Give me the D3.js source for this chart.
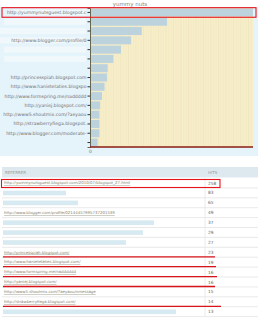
<!DOCTYPE html>
<html><head><meta charset="utf-8">
<script src="https://cdn.jsdelivr.net/npm/d3@7"></script>
<style>body{margin:0;background:#fff}svg{display:block}</style>
</head><body><svg id="c" width="261" height="320"></svg>
<script>
// ---- data ----
const chartTitle = "yummy nuts";
const chartLabels = ["http://yummynutsguest.blogspot.c", "", "", "http://www.blogger.com/profile/0", "", "", "",
  "http://princesspiah.blogspot.com", "http://www.hanietelaties.blogspo", "http://www.formspring.me/naddddd",
  "http://yaniej.blogspot.com/", "http://www5.shoutmix.com/?aeyaou", "http://strawberryfiega.blogspot.",
  "http://www.blogger.com/moderate-", ""];
const chartValues = [258, 122, 82, 65, 49, 37, 28, 27, 23, 19, 16, 15, 15, 15, 12];
const xTickValues = [0];
const tableHeader = ["REFERRER", "HITS"];
const tableReferrers = ["http://yummynutsguest.blogspot.com/2010/07/blogspot_27.html", "", "",
  "http://www.blogger.com/profile/02144457995737201539", "", "", "",
  "http://princesspiah.blogspot.com/", "http://www.hanietelaties.blogspot.com/", "http://www.formspring.me/nadddddd",
  "http://yaniej.blogspot.com/", "http://www5.shoutmix.com/?aeyaou/nmessage", "http://strawberryfiega.blogspot.com/", ""];
const tableHits = [258, 83, 65, 49, 37, 29, 27, 23, 19, 16, 16, 15, 14, 13];
const underlinedRows = [7, 8, 9, 10, 12];

// ---- layout (not data) ----
const chartMaskX = [14, 4, 0, 0, 4, 4, 4, 0, 0, 0, 0, 0, 0, 0, 4];
const tableMaskW = [0, 63, 75, 0, 151, 140, 123, 0, 0, 0, 0, 0, 0, 173];
const underlineEnd = [215, 216, 217, 215, 221];

const svg = d3.select("#c");
const font = "Verdana, 'DejaVu Sans', sans-serif";

// ---- chart ----
svg.append("rect").attr("x", 0).attr("y", 7).attr("width", 258).attr("height", 149).attr("fill", "#e5f3fb");
svg.append("text").attr("x", 130).attr("y", 5.5).attr("text-anchor", "middle")
  .attr("font-family", font).attr("font-size", 5.5).attr("fill", "#888").text(chartTitle);

const x = d3.scaleLinear().domain([0, 258]).range([90, 253]);
const y = d3.scaleBand().domain(d3.range(chartValues.length)).range([8, 147]).paddingInner(0.14).paddingOuter(0.05);

svg.append("rect").attr("x", 90).attr("y", 8).attr("width", 163).attr("height", 139).attr("fill", "#f6edc9");
const stripes = svg.append("g");
d3.range(91, 253, 2.5).forEach((sx, i) => {
  stripes.append("line").attr("x1", sx).attr("x2", sx).attr("y1", 8).attr("y2", 147)
    .attr("stroke", i % 3 === 0 ? "#efe4ba" : "#f3e9c2").attr("stroke-width", 0.7);
});

svg.append("g").selectAll("rect").data(chartValues).join("rect")
  .attr("x", x(0)).attr("y", (d, i) => y(i)).attr("width", d => x(d) - x(0)).attr("height", y.bandwidth())
  .attr("fill", "#bcd3de");

// label masks (redacted)
svg.append("g").selectAll("rect").data(chartLabels).join("rect")
  .filter(d => d === "")
  .attr("x", (d, i) => chartMaskX[i]).attr("y", (d, i) => y(i) + 1).attr("width", (d, i) => 86 - chartMaskX[i])
  .attr("height", y.bandwidth() - 2).attr("fill", "#f0f8fc");

const yAxis = d3.axisLeft(y).tickSize(2.5).tickPadding(1).tickFormat(i => chartLabels[i]);
const ya = svg.append("g").attr("transform", "translate(90,0)").call(yAxis);
ya.select(".domain").attr("stroke", "#665").attr("stroke-width", 1);
ya.selectAll(".tick line").attr("stroke", "#333");
ya.selectAll("text").attr("font-family", font).attr("font-size", 4.6).attr("fill", "#707070");

const xAxis = d3.axisBottom(x).tickValues(xTickValues).tickSize(0).tickPadding(3);
const xa = svg.append("g").attr("transform", "translate(0,147)").call(xAxis);
xa.select(".domain").remove();
xa.selectAll("text").attr("font-family", font).attr("font-size", 4.5).attr("fill", "#777");
svg.append("line").attr("x1", 90).attr("x2", 253).attr("y1", 147).attr("y2", 147)
  .attr("stroke", "#8b1c12").attr("stroke-width", 1.6);

// highlight first row
svg.append("rect").attr("x", 2).attr("y", y(0) - 0.8).attr("width", 254).attr("height", y.bandwidth() + 1.6)
  .attr("fill", "none").attr("stroke", "#e8141c").attr("stroke-width", 1.1);

// ---- table ----
const rowH = 9.9, rowTop = 178;
const tx0 = 2, tx1 = 258, colX = 205;
svg.append("rect").attr("x", tx0).attr("y", 167).attr("width", tx1 - tx0).attr("height", 10.5).attr("fill", "#dde9ef");
svg.append("text").attr("x", 5).attr("y", 173.8).attr("font-family", font).attr("font-size", 4).attr("fill", "#999").text(tableHeader[0]);
svg.append("text").attr("x", 208).attr("y", 173.8).attr("font-family", font).attr("font-size", 4).attr("fill", "#999").text(tableHeader[1]);

const rows = svg.append("g").selectAll("g").data(tableHits).join("g")
  .attr("transform", (d, i) => `translate(0,${rowTop + i * rowH})`);
rows.append("line").attr("x1", tx0).attr("x2", tx1).attr("y1", rowH).attr("y2", rowH).attr("stroke", "#e3e3e3").attr("stroke-width", 0.8);
rows.append("line").attr("x1", colX).attr("x2", colX).attr("y1", 0).attr("y2", rowH).attr("stroke", "#e6e6e6").attr("stroke-width", 0.8);
rows.append("text").attr("x", 208).attr("y", 6.5).attr("font-family", font).attr("font-size", 4.3).attr("fill", "#666").text(d => d);
rows.each(function (d, i) {
  const g = d3.select(this);
  if (tableReferrers[i] === "") {
    g.append("rect").attr("x", 3).attr("y", 2.8).attr("width", tableMaskW[i]).attr("height", 4.6).attr("fill", "#d7e9f1");
  } else {
    g.append("text").attr("x", 4).attr("y", 6.3).attr("font-family", font).attr("font-size", 3.9)
      .attr("fill", "#858370").attr("text-decoration", "underline").text(tableReferrers[i]);
  }
});

// red annotations
svg.append("rect").attr("x", 1.5).attr("y", rowTop + 1.5).attr("width", 218.5).attr("height", 8)
  .attr("fill", "none").attr("stroke", "#e8141c").attr("stroke-width", 1.1);
svg.append("g").selectAll("line").data(underlinedRows).join("line")
  .attr("x1", 3).attr("x2", (d, i) => underlineEnd[i])
  .attr("y1", d => rowTop + d * rowH + 9.5).attr("y2", d => rowTop + d * rowH + 9.5)
  .attr("stroke", "#d8141a").attr("stroke-width", 1.3);
</script></body></html>
